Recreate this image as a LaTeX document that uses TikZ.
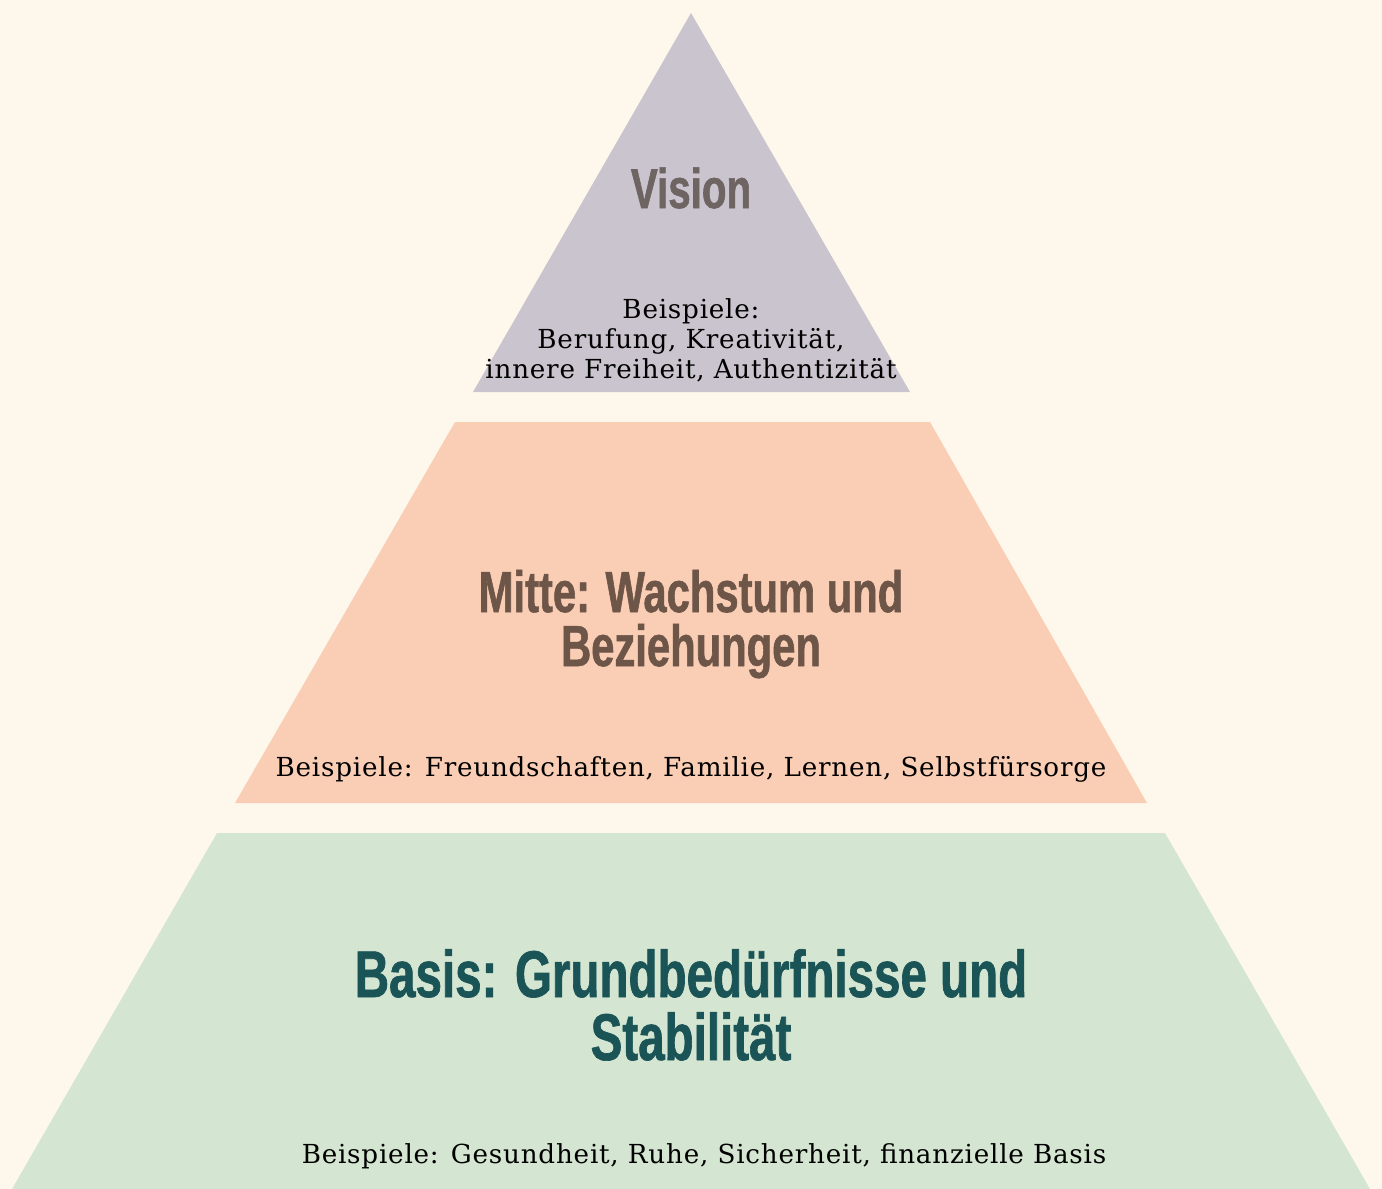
\documentclass[tikz,border=0pt]{standalone}
\usepackage{fontspec}
\setmainfont{DejaVu Serif}
\newfontfamily\headfont[FakeStretch=0.72,FakeBold=1]{Liberation Sans}
\newfontfamily\bodyfont[LetterSpace=3]{DejaVu Serif}

\definecolor{bgcream}{HTML}{FEF8EC}
\definecolor{toplilac}{HTML}{C9C4CD}
\definecolor{midpeach}{HTML}{FACDB5}
\definecolor{basegreen}{HTML}{D4E6D1}
\definecolor{visiontext}{HTML}{6E6462}
\definecolor{mittetext}{HTML}{6D5548}
\definecolor{basistext}{HTML}{1B5457}

\begin{document}
\begin{tikzpicture}[x=0.5pt, y=-0.5pt,
headnode/.style={font=\headfont\bfseries, align=center, inner sep=0pt},
exnode/.style={font=\bodyfont\fontsize{13.1}{15}\selectfont, text=black, align=center, inner sep=0pt, anchor=base}
]
        % background
        \fill [bgcream] (0, 0) rectangle (1382, 1189);

        % levels of the pyramid
        \fill [toplilac] (691, 13) -- (910, 392) -- (473, 392) -- cycle;
        \fill [midpeach] (455, 422) -- (930, 422) -- (1147, 803) -- (235, 803) -- cycle;
        \fill [basegreen] (217, 833) -- (1165, 833) -- (1370, 1189) -- (12, 1189) -- cycle;

        % top (base anchor sits on the last line)
        \node [headnode, anchor=base, text=visiontext, font=\headfont\bfseries\fontsize{28}{27}\selectfont] (vision) at (691, 208) {Vision};
        \node [exnode] (visionex) at (691, 378) {Beispiele:\\Berufung, Kreativität,\\innere Freiheit, Authentizität};

        % middle
        \node [headnode, anchor=base, text=mittetext, font=\headfont\bfseries\fontsize{29}{27}\selectfont] (mitte) at (691, 666) {Mitte: Wachstum und\\Beziehungen};
        \node [exnode] (mitteex) at (691, 776) {Beispiele: Freundschaften, Familie, Lernen, Selbstfürsorge};

        % base
        \node [headnode, anchor=base, text=basistext, font=\headfont\bfseries\fontsize{33}{31.5}\selectfont] (basis) at (691, 1060) {Basis: Grundbedürfnisse und\\Stabilität};
        \node [exnode] (basisex) at (704, 1163) {Beispiele: Gesundheit, Ruhe, Sicherheit, finanzielle Basis};

 \end{tikzpicture}
\end{document}
